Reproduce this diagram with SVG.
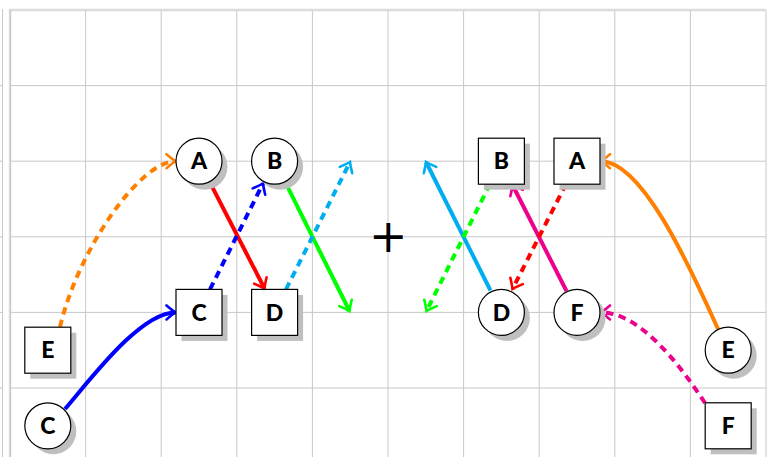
<svg xmlns="http://www.w3.org/2000/svg" width="774" height="457" viewBox="0 0 774 457">
<style>
.grid{stroke:#c8c8c8;stroke-width:1;fill:none}
.border{stroke:#dcdcdc;stroke-width:2.5;fill:none}
.shadow{fill:#bfbfbf;stroke:none}
.node{fill:#fff;stroke:#000;stroke-width:1.2}
.lbl{font-family:Lato,"Open Sans",sans-serif;font-weight:900;font-size:23px;text-anchor:middle;fill:#000}
.c{fill:none;stroke-width:4}
.d{stroke-dasharray:7.5 5.5}
</style>
<defs>
<marker id="mo" markerUnits="userSpaceOnUse" markerWidth="24" markerHeight="24" viewBox="-12 -12 24 24" refX="0" refY="0" orient="auto" overflow="visible"><path d="M-9,-7 Q-2.8,-1.8 0,0 Q-2.8,1.8 -9,7" fill="none" stroke="#ff8000" stroke-width="2.6" stroke-linecap="round"/></marker>
<marker id="mb" markerUnits="userSpaceOnUse" markerWidth="24" markerHeight="24" viewBox="-12 -12 24 24" refX="0" refY="0" orient="auto" overflow="visible"><path d="M-9,-7 Q-2.8,-1.8 0,0 Q-2.8,1.8 -9,7" fill="none" stroke="#0000ff" stroke-width="2.6" stroke-linecap="round"/></marker>
<marker id="mr" markerUnits="userSpaceOnUse" markerWidth="24" markerHeight="24" viewBox="-12 -12 24 24" refX="0" refY="0" orient="auto" overflow="visible"><path d="M-9,-7 Q-2.8,-1.8 0,0 Q-2.8,1.8 -9,7" fill="none" stroke="#ff0000" stroke-width="2.6" stroke-linecap="round"/></marker>
<marker id="mg" markerUnits="userSpaceOnUse" markerWidth="24" markerHeight="24" viewBox="-12 -12 24 24" refX="0" refY="0" orient="auto" overflow="visible"><path d="M-9,-7 Q-2.8,-1.8 0,0 Q-2.8,1.8 -9,7" fill="none" stroke="#00ff00" stroke-width="2.6" stroke-linecap="round"/></marker>
<marker id="mc" markerUnits="userSpaceOnUse" markerWidth="24" markerHeight="24" viewBox="-12 -12 24 24" refX="0" refY="0" orient="auto" overflow="visible"><path d="M-9,-7 Q-2.8,-1.8 0,0 Q-2.8,1.8 -9,7" fill="none" stroke="#00aeef" stroke-width="2.6" stroke-linecap="round"/></marker>
<marker id="mm" markerUnits="userSpaceOnUse" markerWidth="24" markerHeight="24" viewBox="-12 -12 24 24" refX="0" refY="0" orient="auto" overflow="visible"><path d="M-9,-7 Q-2.8,-1.8 0,0 Q-2.8,1.8 -9,7" fill="none" stroke="#ec008c" stroke-width="2.6" stroke-linecap="round"/></marker>
</defs>
<rect width="774" height="457" fill="#fff"/>
<g id="grid">
<path class="grid" d="M85.6,10V457M161.2,10V457M236.8,10V457M312.4,10V457M388,10V457M463.6,10V457M539.2,10V457M614.8,10V457M690.4,10V457M766,10V457"/>
<path class="grid" d="M10,85.6H766M10,161.2H766M10,236.8H766M10,312.4H766M10,388H766"/>
<path class="grid" d="M2.5,9V457M0,85.6H2.5M0,161.2H2.5M0,236.8H2.5M0,312.4H2.5M0,388H2.5"/>
<path class="border" d="M10,457V10H766"/>
<path class="grid" d="M10.5,10V457"/>
</g>
<g id="connectors">
<path class="c d" stroke="#ff8000" marker-end="url(#mo)" d="M60,327 C78,250 140,161.2 175.5,161.2"/>
<path class="c" stroke="#0000ff" marker-end="url(#mb)" d="M65,409 C90,380 140,312.4 175.5,312.4"/>
<path class="c" stroke="#ff0000" marker-end="url(#mr)" d="M209.5,181.7 L264.5,288.5"/>
<path class="c d" stroke="#0000ff" marker-end="url(#mb)" d="M210,289.4 L263,183.5"/>
<path class="c" stroke="#00ff00" marker-end="url(#mg)" d="M285,181.7 L349.5,311"/>
<path class="c d" stroke="#00aeef" marker-end="url(#mc)" d="M286,289.4 L350,162"/>
<path class="c" stroke="#00aeef" marker-end="url(#mc)" d="M490.5,290.5 L426,162"/>
<path class="c d" stroke="#00ff00" marker-end="url(#mg)" d="M490,184 L426.5,311"/>
<path class="c" stroke="#ec008c" marker-end="url(#mm)" d="M566.5,291 L512.5,185"/>
<path class="c d" stroke="#ff0000" marker-end="url(#mr)" d="M566,184 L512.5,289"/>
<path class="c" stroke="#ff8000" marker-end="url(#mo)" d="M718,329 C686.5,259 641,161.2 601,161.2"/>
<path class="c d" stroke="#ec008c" marker-end="url(#mm)" d="M705,403 C680,365 640,312.4 601,312.4"/>
</g>
<g id="nA1"><circle class="shadow" cx="204.5" cy="166.7" r="23"/><circle class="node" cx="199" cy="161.2" r="23"/><text class="lbl" x="199" y="169.3">A</text></g>
<g id="nB1"><circle class="shadow" cx="280.1" cy="166.7" r="23"/><circle class="node" cx="274.6" cy="161.2" r="23"/><text class="lbl" x="274.6" y="169.3">B</text></g>
<g id="nC1"><rect class="shadow" x="181.5" y="294.9" width="46" height="46"/><rect class="node" x="176" y="289.4" width="46" height="46"/><text class="lbl" x="199" y="320.5">C</text></g>
<g id="nD1"><rect class="shadow" x="257.1" y="294.9" width="46" height="46"/><rect class="node" x="251.6" y="289.4" width="46" height="46"/><text class="lbl" x="274.6" y="320.5">D</text></g>
<g id="nE1"><rect class="shadow" x="30.3" y="332.7" width="46" height="46"/><rect class="node" x="24.8" y="327.2" width="46" height="46"/><text class="lbl" x="47.8" y="358.3">E</text></g>
<g id="nC0"><circle class="shadow" cx="53.3" cy="431.3" r="23"/><circle class="node" cx="47.8" cy="425.8" r="23"/><text class="lbl" x="47.8" y="433.9">C</text></g>
<g id="plus"><text x="388.3" y="252" font-family="DejaVu Sans,sans-serif" font-size="46" text-anchor="middle" fill="#000">+</text></g>
<g id="nB2"><rect class="shadow" x="483.9" y="143.7" width="46" height="46"/><rect class="node" x="478.4" y="138.2" width="46" height="46"/><text class="lbl" x="501.4" y="169.3">B</text></g>
<g id="nA2"><rect class="shadow" x="559.5" y="143.7" width="46" height="46"/><rect class="node" x="554" y="138.2" width="46" height="46"/><text class="lbl" x="577" y="169.3">A</text></g>
<g id="nD2"><circle class="shadow" cx="506.9" cy="317.9" r="23"/><circle class="node" cx="501.4" cy="312.4" r="23"/><text class="lbl" x="501.4" y="320.5">D</text></g>
<g id="nF2"><circle class="shadow" cx="582.5" cy="317.9" r="23"/><circle class="node" cx="577" cy="312.4" r="23"/><text class="lbl" x="577" y="320.5">F</text></g>
<g id="nE2"><circle class="shadow" cx="733.7" cy="355.7" r="23"/><circle class="node" cx="728.2" cy="350.2" r="23"/><text class="lbl" x="728.2" y="358.3">E</text></g>
<g id="nF3"><rect class="shadow" x="710.7" y="408.3" width="46" height="46"/><rect class="node" x="705.2" y="402.8" width="46" height="46"/><text class="lbl" x="728.2" y="433.9">F</text></g>
</svg>
